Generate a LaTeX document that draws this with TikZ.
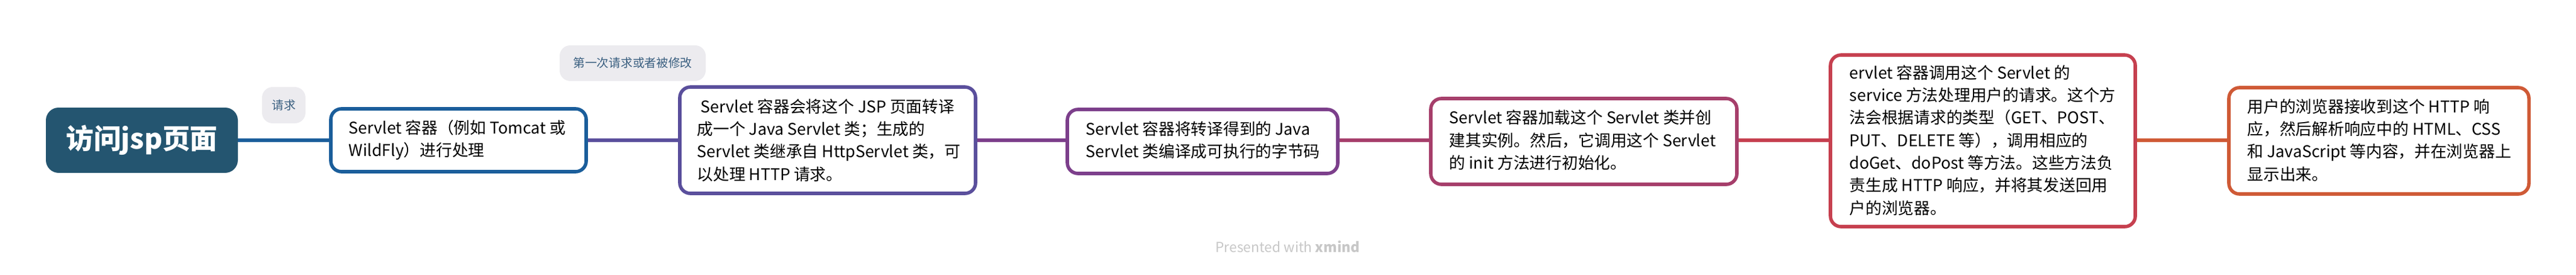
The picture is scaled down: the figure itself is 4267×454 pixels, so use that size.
\documentclass[tikz,border=0pt]{standalone}
\usepackage{fontspec}
\setmainfont{Noto Sans CJK SC}
\definecolor{cRoot}{HTML}{245570}
\definecolor{cA}{HTML}{1B5E9B}
\definecolor{cB}{HTML}{5A4F9C}
\definecolor{cC}{HTML}{7C3F8B}
\definecolor{cD}{HTML}{A63F6B}
\definecolor{cE}{HTML}{C6404F}
\definecolor{cF}{HTML}{CF5A36}
\definecolor{lblfill}{HTML}{ECEBEF}
\definecolor{lbltext}{HTML}{3A5F80}
\begin{document}
\begin{tikzpicture}[x=0.01cm,y=-0.01cm,
  box/.style={line width=1.6pt,rounded corners=5pt,fill=white},
  txt/.style={align=left,font=\fontsize{7.6}{10.6}\selectfont,anchor=west,inner sep=0pt},
  conn/.style={line width=1.7pt}]
\useasboundingbox (0,0) rectangle (4267,454);
% connectors
\draw[conn,cA] (394,232) -- (548,232);
\draw[conn,cB] (971,232) -- (1126,232);
\draw[conn,cC] (1616,232) -- (1768,232);
\draw[conn,cD] (2216,232) -- (2370,232);
\draw[conn,cE] (2877,232) -- (3032,232);
\draw[conn,cF] (3537,232) -- (3692,232);
% root
\fill[cRoot,rounded corners=6pt] (76,178) rectangle (394,286);
\node[text=white,font=\fontsize{13}{15}\selectfont\bfseries] (root) at (235,232) {访问jsp页面};
% labels
\fill[lblfill,rounded corners=5pt] (434,144) rectangle (506,204);
\node[text=lbltext,font=\fontsize{5.6}{7}\selectfont] (l1) at (470,174) {请求};
\fill[lblfill,rounded corners=5pt] (927,75) rectangle (1169,134);
\node[text=lbltext,font=\fontsize{5.6}{7}\selectfont] (l2) at (1048,104) {第一次请求或者被修改};
% boxes
\draw[box,draw=cA] (548,180) rectangle (971,284);
\node[txt] (b1) at (577,232) {Servlet 容器（例如 Tomcat 或\\WildFly）进行处理};
\draw[box,draw=cB] (1126,144) rectangle (1616,320);
\node[txt] (b2) at (1154,232) {\ Servlet 容器会将这个 JSP 页面转译\\成一个 Java Servlet 类；生成的\\Servlet 类继承自 HttpServlet 类，可\\以处理 HTTP 请求。};
\draw[box,draw=cC] (1768,181) rectangle (2216,287);
\node[txt] (b3) at (1798,232) {Servlet 容器将转译得到的 Java\\Servlet 类编译成可执行的字节码};
\draw[box,draw=cD] (2370,163) rectangle (2877,305);
\node[txt] (b4) at (2400,232) {Servlet 容器加载这个 Servlet 类并创\\建其实例。然后，它调用这个 Servlet\\的 init 方法进行初始化。};
\draw[box,draw=cE] (3032,91) rectangle (3537,375);
\node[txt] (b5) at (3063,232) {ervlet 容器调用这个 Servlet 的\\service 方法处理用户的请求。这个方\\法会根据请求的类型（GET、POST、\\PUT、DELETE 等），调用相应的\\doGet、doPost 等方法。这些方法负\\责生成 HTTP 响应，并将其发送回用\\户的浏览器。};
\draw[box,draw=cF] (3692,145) rectangle (4189,321);
\node[txt] (b6) at (3722,232) {用户的浏览器接收到这个 HTTP 响\\应，然后解析响应中的 HTML、CSS\\和 JavaScript 等内容，并在浏览器上\\显示出来。};
\node[text=black!22,font=\fontsize{6.5}{8}\selectfont] (pw) at (2133,408) {Presented with \textbf{xmind}};
\end{tikzpicture}
\end{document}
